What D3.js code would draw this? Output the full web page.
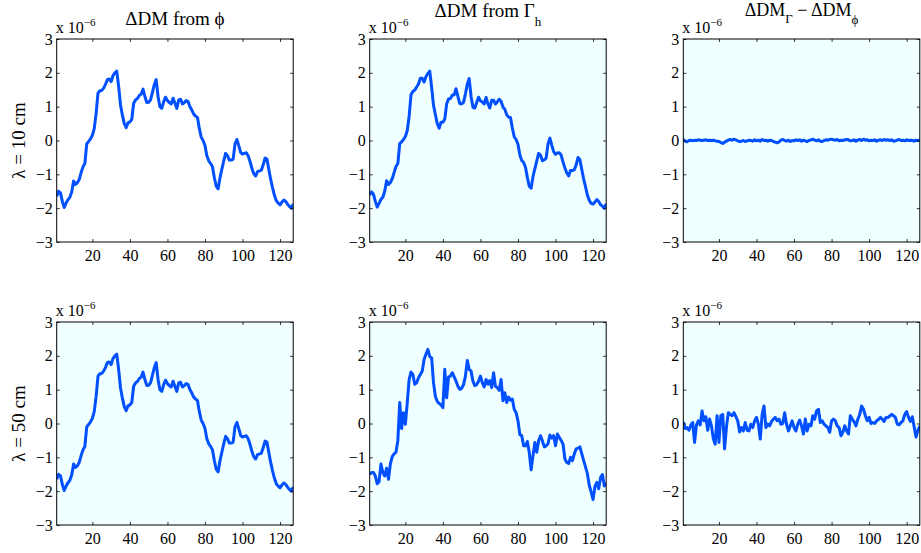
<!DOCTYPE html>
<html>
<head>
<meta charset="utf-8">
<script src="https://cdn.jsdelivr.net/npm/d3@7"></script>
<style>
  body { margin: 0; background: #fff; }
  svg { display: block; }
  svg text { font-family: 'Liberation Serif', 'Times New Roman', 'DejaVu Serif', serif; fill: #000; }
</style>
</head>
<body>
<svg id="chart" width="921" height="553"></svg>
<script>
/**
 * Data (units of 1e-6), one value per sample index 1..127.
 */
const sampleIndex = d3.range(1, 128);

const phiDM = [
  -1.65, -1.5, -1.55, -1.8, -1.98, -1.85, -1.75, -1.68, -1.52, -1.2,
  -1.3, -1.25, -1.15, -0.95, -0.78, -0.68, -0.1, -0.03, 0.05, 0.15,
  0.35, 0.8, 1.4, 1.47, 1.48, 1.55, 1.66, 1.8, 1.82, 1.74,
  1.92, 2.0, 2.05, 1.6, 1.05, 0.75, 0.5, 0.38, 0.52, 0.55,
  0.62, 1.1, 1.2, 1.24, 1.33, 1.37, 1.52, 1.3, 1.12, 1.13,
  1.2, 1.42, 1.65, 1.8, 1.3, 1.0, 0.95, 1.15, 1.28, 1.18,
  1.12, 1.08, 1.25, 1.1, 0.95, 1.2, 1.22, 1.08, 1.12, 1.18,
  1.15, 1.0, 0.9, 0.78, 0.72, 0.68, 0.35, 0.1, 0.0, -0.15,
  -0.45, -0.6, -0.68, -0.78, -1.1, -1.35, -1.43, -1.1, -0.85, -0.6,
  -0.38, -0.45, -0.58, -0.58, -0.55, -0.1, 0.03, -0.15, -0.35, -0.4,
  -0.38, -0.36, -0.45, -0.62, -0.82, -0.98, -1.05, -0.92, -0.9, -0.88,
  -0.72, -0.52, -0.55, -0.85, -1.15, -1.4, -1.62, -1.78, -1.85, -1.9,
  -1.82, -1.76, -1.8, -1.88, -1.95, -2.0, -1.88
];

const gammaDM10 = [
  -1.61, -1.52, -1.59, -1.8, -1.97, -1.86, -1.74, -1.68, -1.5, -1.19,
  -1.3, -1.24, -1.13, -0.95, -0.77, -0.68, -0.09, -0.04, 0.03, 0.12,
  0.29, 0.71, 1.35, 1.45, 1.49, 1.58, 1.67, 1.84, 1.84, 1.73,
  1.89, 1.98, 2.05, 1.57, 1.04, 0.76, 0.5, 0.36, 0.54, 0.54,
  0.63, 1.08, 1.23, 1.24, 1.34, 1.35, 1.53, 1.3, 1.09, 1.08,
  1.13, 1.38, 1.66, 1.83, 1.3, 0.98, 0.96, 1.12, 1.28, 1.17,
  1.14, 1.08, 1.27, 1.08, 0.96, 1.19, 1.19, 1.08, 1.14, 1.22,
  1.16, 0.99, 0.92, 0.76, 0.69, 0.68, 0.37, 0.11, 0.03, -0.11,
  -0.43, -0.59, -0.65, -0.79, -1.09, -1.35, -1.41, -1.07, -0.83, -0.61,
  -0.38, -0.43, -0.6, -0.57, -0.52, -0.1, 0.07, -0.14, -0.33, -0.41,
  -0.37, -0.36, -0.43, -0.64, -0.81, -0.96, -1.05, -0.89, -0.89, -0.86,
  -0.72, -0.5, -0.57, -0.86, -1.14, -1.37, -1.62, -1.77, -1.86, -1.88,
  -1.82, -1.75, -1.8, -1.9, -1.94, -2.0, -1.87
];

const diffDM10 = [
  0.04, -0.02, -0.04, 0.0, 0.01, -0.01, 0.01, 0.0, 0.02, 0.01,
  0.0, 0.01, 0.02, 0.0, 0.01, 0.0, 0.01, -0.01, -0.02, -0.03,
  -0.06, -0.09, -0.05, -0.02, 0.01, 0.03, 0.01, 0.04, 0.02, -0.01,
  -0.03, -0.02, 0.0, -0.03, -0.01, 0.01, 0.0, -0.02, 0.02, -0.01,
  0.01, -0.02, 0.03, 0.0, 0.01, -0.02, 0.01, 0.0, -0.03, -0.05,
  -0.07, -0.04, 0.01, 0.03, 0.0, -0.02, 0.01, -0.03, 0.0, -0.01,
  0.02, 0.0, 0.02, -0.02, 0.01, -0.01, -0.03, 0.0, 0.02, 0.04,
  0.01, -0.01, 0.02, -0.02, -0.03, 0.0, 0.02, 0.01, 0.03, 0.04,
  0.02, 0.01, 0.03, -0.01, 0.01, 0.0, 0.02, 0.03, 0.02, -0.01,
  0.0, 0.02, -0.02, 0.01, 0.03, 0.0, 0.04, 0.01, 0.02, -0.01,
  0.01, 0.0, 0.02, -0.02, 0.01, 0.02, 0.0, 0.03, 0.01, 0.02,
  0.0, 0.02, -0.02, -0.01, 0.01, 0.03, 0.0, 0.01, -0.01, 0.02,
  0.0, 0.01, 0.0, -0.02, 0.01, 0.0, 0.01
];

const gammaDM50 = [
  -1.5, -1.45, -1.45, -1.55, -1.78, -1.72, -1.2, -1.45, -1.55, -1.32,
  -1.65, -1.2, -0.98, -0.9, -0.85, -0.5, 0.62, -0.15, 0.32, -0.02,
  0.6, 1.3, 1.52, 1.45, 1.16, 1.2, 1.35, 1.45, 1.55, 1.9,
  2.05, 2.19, 1.98, 1.94, 1.2, 0.8, 0.65, 0.59, 0.55, 0.47,
  1.6, 0.76, 1.38, 1.4, 1.5, 1.38, 1.25, 1.1, 1.01, 1.04,
  1.15, 1.4, 1.86, 1.6, 1.55, 1.25, 1.12, 1.15, 1.25, 1.4,
  1.2, 1.08, 1.3, 1.16, 1.27, 1.06, 1.5, 1.1, 1.06, 0.98,
  1.3, 0.67, 0.91, 0.62, 0.78, 0.69, 0.72, 0.42, 0.32, 0.08,
  -0.33, -0.36, -0.66, -0.66, -0.53, -0.85, -1.37, -0.95, -0.56, -0.85,
  -0.51, -0.36, -0.51, -0.69, -0.66, -0.6, -0.34, -0.43, -0.36, -0.66,
  -0.31, -0.41, -0.5, -0.61, -1.05, -1.15, -1.18, -1.0, -1.1, -0.9,
  -0.75, -0.73, -0.69, -0.9, -1.1, -1.29, -1.49, -1.83, -2.03, -2.25,
  -1.86, -1.74, -1.93, -1.6, -1.51, -1.85, -1.75
];

const diffDM50 = [
  0.05, -0.15, -0.12, -0.2, -0.05, 0.03, -0.56, -0.05, 0.08, -0.04,
  0.37, 0.08, 0.2, -0.2, 0.13, -0.07, -0.45, -0.61, 0.23, -0.56,
  0.23, 0.27, -0.75, -0.1, 0.32, 0.27, 0.23, 0.32, 0.2, 0.08,
  -0.25, -0.12, -0.22, 0.03, -0.2, -0.22, -0.02, -0.12, 0.08, 0.18,
  -0.02, -0.46, 0.27, 0.52, -0.12, -0.02, -0.07, 0.06, 0.13, 0.18,
  0.08, 0.13, -0.02, 0.0, 0.32, -0.02, -0.22, -0.07, 0.08, -0.12,
  -0.22, -0.02, 0.1, -0.07, -0.31, 0.13, -0.22, -0.02, -0.07, 0.23,
  0.13, 0.37, 0.42, 0.03, 0.08, -0.02, -0.07, -0.12, -0.26, 0.08,
  0.13, 0.08, -0.07, -0.12, -0.36, -0.26, -0.07, -0.22, -0.31, 0.23,
  0.13, 0.05, -0.07, 0.13, 0.27, 0.52, 0.42, 0.23, 0.08, 0.18,
  0.0, 0.03, 0.0, 0.08, 0.12, 0.18, 0.13, 0.06, 0.18, 0.18,
  0.22, 0.27, 0.23, 0.18, -0.02, -0.04, 0.03, 0.08, 0.27, 0.35,
  0.18, 0.06, 0.2, -0.1, -0.4, -0.2, -0.08
];

const xTickValues = [20, 40, 60, 80, 100, 120];
const yTickValues = [-3, -2, -1, 0, 1, 2, 3];
const rowLabels = ['λ = 10 cm', 'λ = 50 cm'];

/**
 * Visual configs.
 */
const serif = "'Liberation Serif', 'Times New Roman', 'DejaVu Serif', serif";

const colLeft = [56.7, 369.7, 683.3],
    rowTop = [39, 322],
    panelWidth = 236.5,
    panelHeight = 203,
    lineColor = '#0050ff',
    shade = '#f0ffff';

const panels = [
    { row: 0, col: 0, values: phiDM, fill: '#ffffff' },
    { row: 0, col: 1, values: gammaDM10, fill: shade },
    { row: 0, col: 2, values: diffDM10, fill: shade },
    { row: 1, col: 0, values: phiDM, fill: shade },
    { row: 1, col: 1, values: gammaDM50, fill: shade },
    { row: 1, col: 2, values: diffDM50, fill: shade }
];

const svg = d3.select('#chart');

/**
 * D3.
 */
const xScale = d3.scaleLinear().domain([1, 127]).range([0, panelWidth]),
    yScale = d3.scaleLinear().domain([-3, 3]).range([panelHeight, 0]),
    intFormat = d3.format('d'),
    line = d3.line()
        .x((d, i) => xScale(sampleIndex[i]))
        .y(d => yScale(d));

/**
 * Draw each panel.
 */
panels.forEach((p, k) => {
    const g = svg.append('g')
        .attr('transform', 'translate(' + colLeft[p.col] + ',' + rowTop[p.row] + ')');

    g.append('rect')
        .attr('width', panelWidth)
        .attr('height', panelHeight)
        .attr('fill', p.fill);

    g.append('clipPath').attr('id', 'clip' + k)
        .append('rect')
        .attr('width', panelWidth)
        .attr('height', panelHeight);

    g.append('path')
        .datum(p.values)
        .attr('clip-path', 'url(#clip' + k + ')')
        .attr('fill', 'none')
        .attr('stroke', lineColor)
        .attr('stroke-width', 3)
        .attr('stroke-linejoin', 'round')
        .attr('d', line);

    // Axes: ticks point inward, mirrored on top and right
    const xAxis = d3.axisBottom(xScale).tickValues(xTickValues).tickFormat(intFormat)
            .tickSizeInner(-3).tickSizeOuter(0).tickPadding(8),
        xAxisTop = d3.axisTop(xScale).tickValues(xTickValues)
            .tickSizeInner(-3).tickSizeOuter(0).tickFormat(''),
        yAxis = d3.axisLeft(yScale).tickValues(yTickValues).tickFormat(intFormat)
            .tickSizeInner(-3).tickSizeOuter(0).tickPadding(4),
        yAxisRight = d3.axisRight(yScale).tickValues(yTickValues)
            .tickSizeInner(-3).tickSizeOuter(0).tickFormat('');

    g.append('g').attr('transform', 'translate(0,' + panelHeight + ')').call(xAxis);
    g.append('g').call(xAxisTop);
    g.append('g').call(yAxis);
    g.append('g').attr('transform', 'translate(' + panelWidth + ',0)').call(yAxisRight);

    g.selectAll('.domain').remove();
    g.selectAll('.tick line').attr('stroke', '#000').attr('stroke-width', 0.8);
    g.selectAll('.tick text')
        .attr('fill', '#111')
        .attr('font-family', serif)
        .attr('font-size', 16);

    g.append('rect')
        .attr('width', panelWidth)
        .attr('height', panelHeight)
        .attr('fill', 'none')
        .attr('stroke', '#000')
        .attr('stroke-width', 1);

    // Exponent label
    const expo = g.append('text')
        .attr('x', -1)
        .attr('y', -6)
        .attr('font-family', serif)
        .attr('font-size', 16)
        .attr('fill', '#111')
        .text('x 10');
    expo.append('tspan')
        .attr('dy', -7)
        .attr('font-size', 11)
        .text('−6');
});

/**
 * Column titles.
 */
const titleSize = 19, subSize = 13;
const colCenter = c => colLeft[c] + panelWidth / 2;

svg.append('text')
    .attr('x', colCenter(0)).attr('y', 25)
    .attr('text-anchor', 'middle')
    .attr('font-family', serif)
    .attr('font-size', titleSize)
    .attr('fill', '#000')
    .text('ΔDM from ϕ');

const t2 = svg.append('text')
    .attr('x', colCenter(1)).attr('y', 17)
    .attr('text-anchor', 'middle')
    .attr('font-family', serif)
    .attr('font-size', titleSize)
    .attr('fill', '#000')
    .text('ΔDM from Γ');
t2.append('tspan').attr('dy', 9).attr('font-size', subSize).text('h');

const t3 = svg.append('text')
    .attr('x', colCenter(2)).attr('y', 16)
    .attr('text-anchor', 'middle')
    .attr('font-family', serif)
    .attr('font-size', 18)
    .attr('fill', '#000')
    .text('ΔDM');
t3.append('tspan').attr('dy', 7).attr('font-size', subSize).text('Γ');
t3.append('tspan').attr('dy', -7).text(' − ΔDM');
t3.append('tspan').attr('dy', 8).attr('font-size', subSize).attr('fill', '#000').text('ϕ');

/**
 * Row labels.
 */
rowLabels.forEach((label, r) => {
    const cy = rowTop[r] + panelHeight / 2;
    svg.append('text')
        .attr('transform', 'translate(24.5,' + cy + ') rotate(-90)')
        .attr('text-anchor', 'middle')
        .attr('font-family', serif)
        .attr('font-size', titleSize)
        .attr('fill', '#000')
        .text(label);
});
</script>
</body>
</html>
